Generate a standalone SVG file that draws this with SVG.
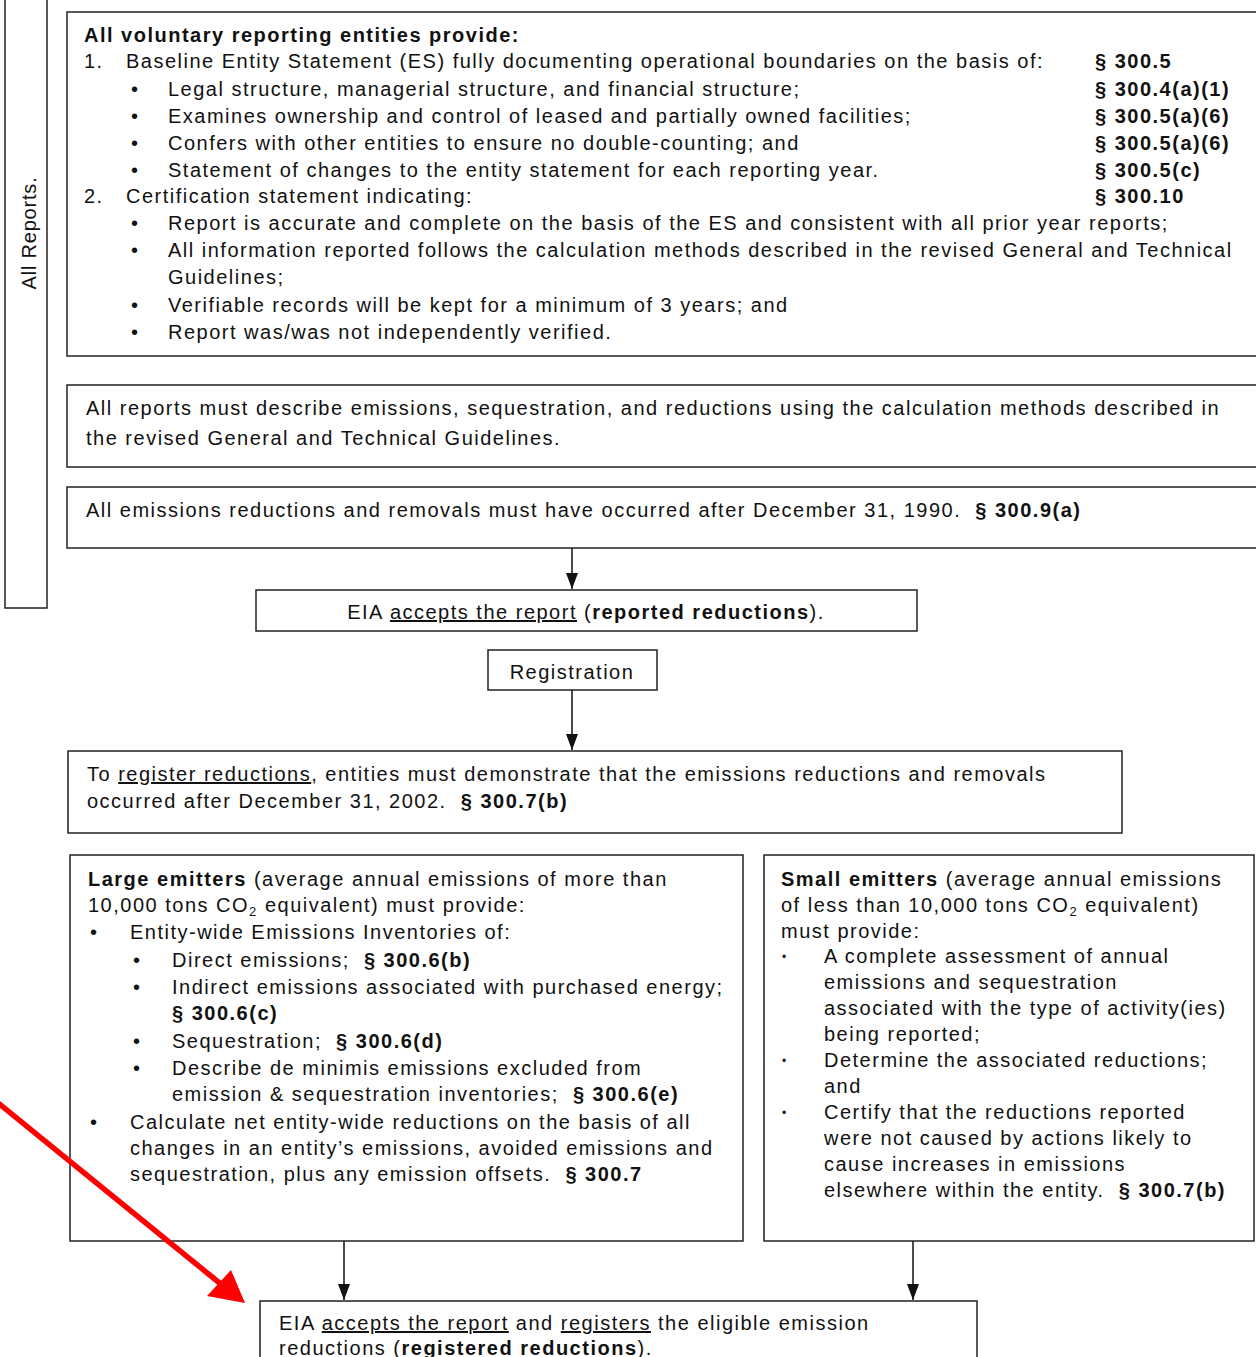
<svg xmlns="http://www.w3.org/2000/svg" width="1256" height="1357" viewBox="0 0 1256 1357">
<style>
  text { font-family: "Liberation Sans", Arial, sans-serif; font-size: 20px; fill: #111; letter-spacing: 1.5px; }
  .b { font-weight: bold; }
  .u { text-decoration: underline; }
  .box { fill: #fff; stroke: #222; stroke-width: 1.5; }
  .conn { stroke: #111; stroke-width: 1.5; fill: none; }
  .sub { font-size: 13px; }
  .sb { font-size: 12px; }
</style>
<defs>
  <marker id="ah" viewBox="0 0 16 12" refX="16" refY="6" markerWidth="16" markerHeight="12" markerUnits="userSpaceOnUse" orient="auto">
    <path d="M0,0 L16,6 L0,12 Z" fill="#111"/>
  </marker>
</defs>
<rect width="1256" height="1357" fill="#fff"/>

<g id="all-reports">
  <rect class="box" x="5" y="-5" width="42" height="613"/>
  <text x="36" y="233" text-anchor="middle" transform="rotate(-90 36 233)" style="letter-spacing:0.8px">All Reports.</text>
</g>

<g id="box-provide">
  <rect class="box" x="67" y="12" width="1200" height="344"/>
  <text x="84" y="42" class="b">All voluntary reporting entities provide:</text>
  <text x="84" y="68">1.</text>
  <text x="126" y="68">Baseline Entity Statement (ES) fully documenting operational boundaries on the basis of:</text>
  <text x="131" y="96">•</text><text x="168" y="96">Legal structure, managerial structure, and financial structure;</text>
  <text x="131" y="123">•</text><text x="168" y="123">Examines ownership and control of leased and partially owned facilities;</text>
  <text x="131" y="150">•</text><text x="168" y="150">Confers with other entities to ensure no double-counting; and</text>
  <text x="131" y="177">•</text><text x="168" y="177">Statement of changes to the entity statement for each reporting year.</text>
  <text x="84" y="203">2.</text>
  <text x="126" y="203">Certification statement indicating:</text>
  <text x="131" y="230">•</text><text x="168" y="230">Report is accurate and complete on the basis of the ES and consistent with all prior year reports;</text>
  <text x="131" y="257">•</text><text x="168" y="257">All information reported follows the calculation methods described in the revised General and Technical</text>
  <text x="168" y="284">Guidelines;</text>
  <text x="131" y="312">•</text><text x="168" y="312">Verifiable records will be kept for a minimum of 3 years; and</text>
  <text x="131" y="339">•</text><text x="168" y="339">Report was/was not independently verified.</text>
  <text x="1095" y="68" class="b">§ 300.5</text>
  <text x="1095" y="96" class="b">§ 300.4(a)(1)</text>
  <text x="1095" y="123" class="b">§ 300.5(a)(6)</text>
  <text x="1095" y="150" class="b">§ 300.5(a)(6)</text>
  <text x="1095" y="177" class="b">§ 300.5(c)</text>
  <text x="1095" y="203" class="b">§ 300.10</text>
</g>

<g id="box-methods">
  <rect class="box" x="67" y="385" width="1200" height="82"/>
  <text x="86" y="415">All reports must describe emissions, sequestration, and reductions using the calculation methods described in</text>
  <text x="86" y="445">the revised General and Technical Guidelines.</text>
</g>

<g id="box-1990">
  <rect class="box" x="67" y="487" width="1200" height="61"/>
  <text x="86" y="517">All emissions reductions and removals must have occurred after December 31, 1990.&#160; <tspan class="b">§ 300.9(a)</tspan></text>
</g>

<g id="box-accepts">
  <rect class="box" x="256" y="590" width="661" height="41"/>
  <text x="586" y="619" text-anchor="middle">EIA <tspan class="u">accepts the report</tspan> (<tspan class="b">reported reductions</tspan>).</text>
</g>

<g id="box-registration">
  <rect class="box" x="488" y="650" width="169" height="40"/>
  <text x="572" y="679" text-anchor="middle">Registration</text>
</g>

<g id="box-2002">
  <rect class="box" x="68" y="751" width="1054" height="82"/>
  <text x="87" y="781">To <tspan class="u">register reductions</tspan>, entities must demonstrate that the emissions reductions and removals</text>
  <text x="87" y="808">occurred after December 31, 2002.&#160; <tspan class="b">§ 300.7(b)</tspan></text>
</g>

<g id="box-large">
  <rect class="box" x="70" y="855" width="673" height="386"/>
  <text x="88" y="886"><tspan class="b">Large emitters</tspan> (average annual emissions of more than</text>
  <text x="88" y="912">10,000 tons CO<tspan class="sub" dy="4">2</tspan><tspan dy="-4"> equivalent) must provide:</tspan></text>
  <text x="90" y="939">•</text><text x="130" y="939">Entity-wide Emissions Inventories of:</text>
  <text x="133" y="967">•</text><text x="172" y="967">Direct emissions;&#160; <tspan class="b">§ 300.6(b)</tspan></text>
  <text x="133" y="994">•</text><text x="172" y="994">Indirect emissions associated with purchased energy;</text>
  <text x="172" y="1020" class="b">§ 300.6(c)</text>
  <text x="133" y="1048">•</text><text x="172" y="1048">Sequestration;&#160; <tspan class="b">§ 300.6(d)</tspan></text>
  <text x="133" y="1075">•</text><text x="172" y="1075">Describe de minimis emissions excluded from</text>
  <text x="172" y="1101">emission &amp; sequestration inventories;&#160; <tspan class="b">§ 300.6(e)</tspan></text>
  <text x="90" y="1129">•</text><text x="130" y="1129">Calculate net entity-wide reductions on the basis of all</text>
  <text x="130" y="1155">changes in an entity’s emissions, avoided emissions and</text>
  <text x="130" y="1181">sequestration, plus any emission offsets.&#160; <tspan class="b">§ 300.7</tspan></text>
</g>

<g id="box-small">
  <rect class="box" x="764" y="855" width="490" height="386"/>
  <text x="781" y="886"><tspan class="b">Small emitters</tspan> (average annual emissions</text>
  <text x="781" y="912">of less than 10,000 tons CO<tspan class="sub" dy="4">2</tspan><tspan dy="-4"> equivalent)</tspan></text>
  <text x="781" y="938">must provide:</text>
  <text x="782" y="961" class="sb">•</text><text x="824" y="963">A complete assessment of annual</text>
  <text x="824" y="989">emissions and sequestration</text>
  <text x="824" y="1015">associated with the type of activity(ies)</text>
  <text x="824" y="1041">being reported;</text>
  <text x="782" y="1065" class="sb">•</text><text x="824" y="1067">Determine the associated reductions;</text>
  <text x="824" y="1093">and</text>
  <text x="782" y="1117" class="sb">•</text><text x="824" y="1119">Certify that the reductions reported</text>
  <text x="824" y="1145">were not caused by actions likely to</text>
  <text x="824" y="1171">cause increases in emissions</text>
  <text x="824" y="1197">elsewhere within the entity.&#160; <tspan class="b">§ 300.7(b)</tspan></text>
</g>

<g id="box-registered">
  <rect class="box" x="260" y="1301" width="717" height="70"/>
  <text x="279" y="1330">EIA <tspan class="u">accepts the report</tspan> and <tspan class="u">registers</tspan> the eligible emission</text>
  <text x="279" y="1355">reductions (<tspan class="b">registered reductions</tspan>).</text>
</g>

<g id="connectors">
  <line class="conn" x1="572" y1="548" x2="572" y2="589" marker-end="url(#ah)"/>
  <line class="conn" x1="572" y1="690" x2="572" y2="750" marker-end="url(#ah)"/>
  <line class="conn" x1="344" y1="1241" x2="344" y2="1300" marker-end="url(#ah)"/>
  <line class="conn" x1="913" y1="1241" x2="913" y2="1300" marker-end="url(#ah)"/>
  <g id="red-arrow">
    <line x1="-3" y1="1102" x2="222" y2="1285" stroke="#ff0000" stroke-width="5.5"/>
    <polygon points="245,1303 207,1296 231,1270" fill="#ff0000"/>
  </g>
</g>
</svg>
